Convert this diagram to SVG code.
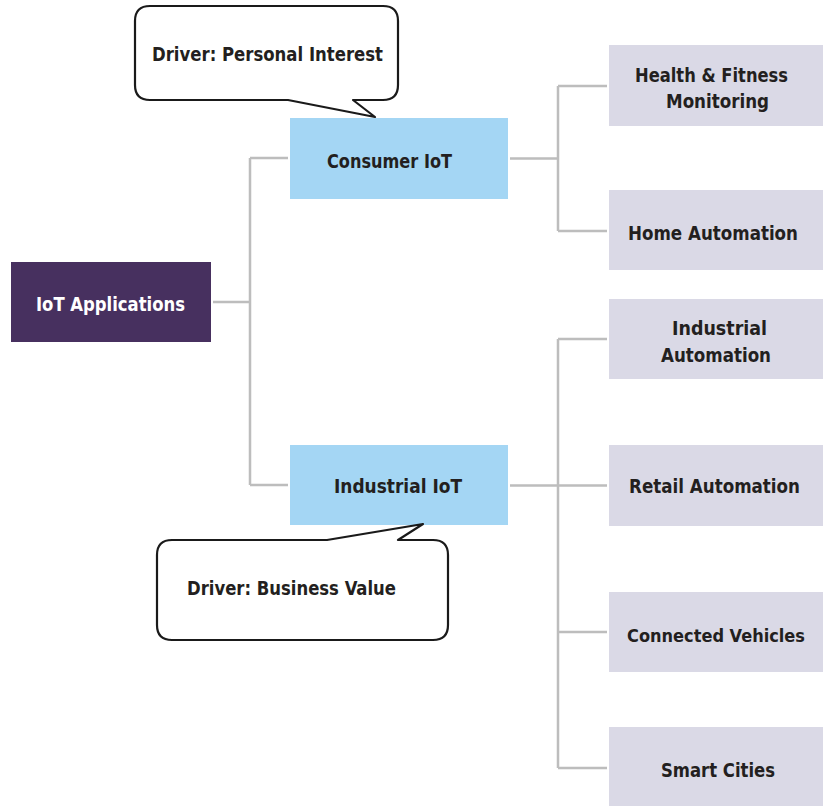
<svg xmlns="http://www.w3.org/2000/svg" width="823" height="806" viewBox="0 0 823 806">
<style>
.t{font-family:"Liberation Sans Narrow","DejaVu Sans Condensed","Liberation Sans",sans-serif;font-weight:bold;font-size:20px;fill:#231F20}
.s{font-size:18.5px}
.w{fill:#FFFFFF}
.c{fill:none;stroke:#BDBDBD;stroke-width:2.5}
.call{fill:#FFFFFF;stroke:#1A1A1A;stroke-width:2.2;stroke-linejoin:round}
.blue{fill:#A4D6F4}
.grey{fill:#DAD9E6}
</style>
<rect width="823" height="806" fill="#FFFFFF"/>
<g id="connectors">
<path class="c" d="M213,302 H250 M250,158 V485 M250,158 H288 M250,485 H288"/>
<path class="c" d="M510,158.5 H558 M558,86 V231 M558,86 H607 M558,231 H607"/>
<path class="c" d="M510,485.5 H607 M558,339 V768 M558,339 H607 M558,632 H607 M558,768 H607"/>
</g>
<g id="root">
<rect x="11" y="262" width="200" height="80" fill="#47305F"/>
<text class="t w" x="36" y="311" textLength="149" lengthAdjust="spacingAndGlyphs">IoT Applications</text>
</g>
<g id="consumer">
<rect class="blue" x="290" y="118" width="218" height="81"/>
<text class="t" x="327" y="168" textLength="125" lengthAdjust="spacingAndGlyphs">Consumer IoT</text>
</g>
<g id="industrial">
<rect class="blue" x="290" y="445" width="218" height="80"/>
<text class="t" x="334" y="493" textLength="128" lengthAdjust="spacingAndGlyphs">Industrial IoT</text>
</g>
<g id="callout-personal">
<path class="call" d="M150,6 H383 Q398,6 398,21 V85 Q398,100 383,100 H353 L375,117 L288,100 H150 Q135,100 135,85 V21 Q135,6 150,6 Z"/>
<text class="t" x="152" y="61" textLength="231" lengthAdjust="spacingAndGlyphs">Driver: Personal Interest</text>
</g>
<g id="callout-business">
<path class="call" d="M172,540 H327 L423,524 L398,540 H433 Q448,540 448,555 V625 Q448,640 433,640 H172 Q157,640 157,625 V555 Q157,540 172,540 Z"/>
<text class="t" x="187" y="595" textLength="209" lengthAdjust="spacingAndGlyphs">Driver: Business Value</text>
</g>
<g id="health">
<rect class="grey" x="609" y="45" width="214" height="81"/>
<text class="t" x="635" y="82" textLength="153" lengthAdjust="spacingAndGlyphs">Health &amp; Fitness</text>
<text class="t" x="666" y="108" textLength="103" lengthAdjust="spacingAndGlyphs">Monitoring</text>
</g>
<g id="home">
<rect class="grey" x="609" y="190" width="214" height="80"/>
<text class="t" x="628" y="240" textLength="170" lengthAdjust="spacingAndGlyphs">Home Automation</text>
</g>
<g id="industrial-automation">
<rect class="grey" x="609" y="299" width="214" height="80"/>
<text class="t" x="672" y="335" textLength="95" lengthAdjust="spacingAndGlyphs">Industrial</text>
<text class="t" x="661" y="362" textLength="110" lengthAdjust="spacingAndGlyphs">Automation</text>
</g>
<g id="retail">
<rect class="grey" x="609" y="445" width="214" height="81"/>
<text class="t" x="629" y="493" textLength="171" lengthAdjust="spacingAndGlyphs">Retail Automation</text>
</g>
<g id="vehicles">
<rect class="grey" x="609" y="592" width="214" height="80"/>
<text class="t s" x="627" y="642" textLength="178" lengthAdjust="spacingAndGlyphs">Connected Vehicles</text>
</g>
<g id="cities">
<rect class="grey" x="609" y="727" width="214" height="79"/>
<text class="t" x="661" y="777" textLength="114" lengthAdjust="spacingAndGlyphs">Smart Cities</text>
</g>
</svg>
